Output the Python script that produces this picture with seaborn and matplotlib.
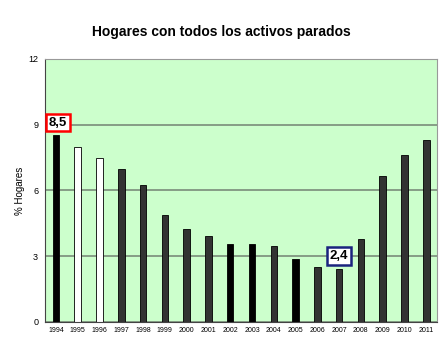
import pandas as pd
import matplotlib
matplotlib.use('Agg')
import matplotlib.pyplot as plt
import seaborn as sns

# datos
years = ['1994', '1995', '1996', '1997', '1998', '1999', '2000', '2001', '2002',
         '2003', '2004', '2005', '2006', '2007', '2008', '2009', '2010', '2011']
values = [8.55, 8.0, 7.5, 7.0, 6.25, 4.9, 4.25, 3.9, 3.55,
          3.55, 3.45, 2.85, 2.5, 2.4, 3.8, 6.65, 7.6, 8.3]
colors = ['black', 'white', 'white', '#333333', '#333333', '#333333', '#333333', '#333333', 'black',
          'black', '#333333', 'black', '#333333', '#333333', '#333333', '#333333', '#333333', '#333333']

df = pd.DataFrame({'year': years, 'value': values})

sns.set_style('white')
plt.rcParams['font.family'] = ['Liberation Sans', 'DejaVu Sans']
plt.rcParams['text.color'] = 'black'
plt.rcParams['axes.labelcolor'] = 'black'
plt.rcParams['xtick.color'] = 'black'
plt.rcParams['ytick.color'] = 'black'

fig, ax = plt.subplots(figsize=(4.42, 3.51), dpi=100)
fig.subplots_adjust(left=0.102, right=0.989, top=0.832, bottom=0.083)

sns.barplot(data=df, x='year', y='value', hue='year', palette=colors, legend=False,
            width=0.3, edgecolor='black', linewidth=0.6, saturation=1, ax=ax)

ax.set_facecolor('#ccffcc')
ax.set_ylim(0, 12)
ax.set_yticks([0, 3, 6, 9, 12])
ax.set_xlim(-0.5, len(years) - 0.5)
ax.yaxis.grid(True, color='#7a8c7a', linewidth=1.2)
ax.set_axisbelow(True)
for s in ['top', 'right']:
    ax.spines[s].set_color('#999999')
for s in ['left', 'bottom']:
    ax.spines[s].set_color('#444444')

ax.tick_params(axis='x', labelsize=5, length=2, pad=2)
ax.tick_params(axis='y', labelsize=6.5, length=3, pad=2)
ax.set_xlabel('')
ax.set_ylabel('% Hogares', fontsize=7, labelpad=2)

fig.suptitle('Hogares con todos los activos parados', fontsize=10, fontweight='bold', y=0.93)

# etiquetas destacadas
ax.text(0.1, 9.1, '8,5', ha='center', va='center', fontsize=9.5, fontweight='bold',
        bbox=dict(boxstyle='square,pad=0.22', facecolor='white', edgecolor='red', linewidth=1.8))
ax.text(13.0, 3.0, '2,4', ha='center', va='center', fontsize=9.5, fontweight='bold',
        bbox=dict(boxstyle='square,pad=0.22', facecolor='white', edgecolor='#1a237e', linewidth=1.8))

plt.savefig('out.png', dpi=100)
